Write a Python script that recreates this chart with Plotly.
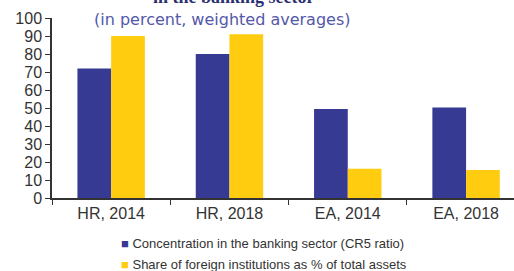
import plotly.graph_objects as go

categories = ["HR, 2014", "HR, 2018", "EA, 2014", "EA, 2018"]
concentration = [72, 80, 49.5, 50.3]
foreign_share = [90, 91, 16.2, 15.5]
series_names = ["Concentration in the banking sector (CR5 ratio)",
                "Share of foreign institutions as % of total assets"]
colors = ["#363a92", "#ffcc10"]
y_ticks = list(range(0, 101, 10))

fig = go.Figure()
fig.add_trace(go.Bar(x=categories, y=concentration, name=series_names[0],
                     marker=dict(color=colors[0], line=dict(width=0))))
fig.add_trace(go.Bar(x=categories, y=foreign_share, name=series_names[1],
                     marker=dict(color=colors[1], line=dict(width=0))))

fig.update_layout(
    width=514, height=271,
    margin=dict(l=52, r=0, t=18, b=73),
    plot_bgcolor="white", paper_bgcolor="white",
    barmode="group", bargap=0.43, bargroupgap=0,
    showlegend=False,
    font=dict(family="Liberation Sans, Arial", color="#333333"),
)
fig.update_xaxes(range=[-0.5, 3.405], showline=True, linecolor="#333333", linewidth=1.5,
                 ticks="outside", ticklen=5, tickcolor="#333333", tickson="boundaries",
                 tickfont=dict(size=16, color="#333333"), showgrid=False)
fig.update_yaxes(range=[0, 100], tickvals=y_ticks, showline=True, linecolor="#333333",
                 linewidth=1.5, ticks="outside", ticklen=5, tickcolor="#333333",
                 tickfont=dict(size=16, color="#333333"), showgrid=False, zeroline=False)

# partial title at top (cut off in reference)
fig.add_annotation(text="<b>in the banking sector</b>", xref="paper", yref="paper",
                   x=0.393, y=1.0, yshift=9, xanchor="center", yanchor="bottom",
                   showarrow=False,
                   font=dict(family="Liberation Serif, Times New Roman", size=18, color="#2a2f6e"))
fig.add_annotation(text="(in percent, weighted averages)", xref="paper", yref="paper",
                   x=0.368, y=1.0, yshift=-1, xanchor="center", yanchor="middle",
                   showarrow=False,
                   font=dict(family="DejaVu Sans", size=16, color="#5458a8"))

# legend as annotations
for i, (nm, c) in enumerate(zip(series_names, colors)):
    fig.add_annotation(text=f'<span style="color:{c}">■</span> {nm}',
                       xref="paper", yref="paper", x=(119 - 52) / 462,
                       y=0, yshift=-45 - 21 * i, xanchor="left", yanchor="middle",
                       showarrow=False, font=dict(size=13, color="#333333"))

fig.write_html("out.html", config={"displayModeBar": False},
               post_script="document.body.style.margin='0';document.body.style.overflow='hidden';")
